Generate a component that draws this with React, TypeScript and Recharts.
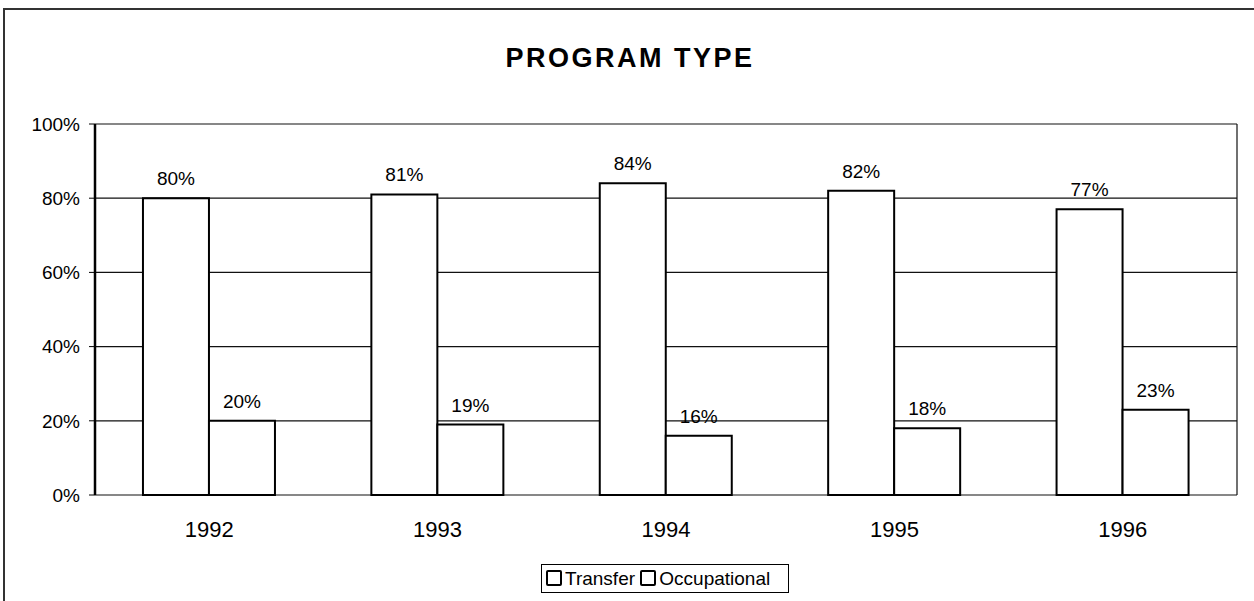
import { BarChart, Bar, XAxis, YAxis, CartesianGrid, LabelList } from "recharts";

const years = ["1992", "1993", "1994", "1995", "1996"];
const transfer = [80, 81, 84, 82, 77];
const occupational = [20, 19, 16, 18, 23];
const yTicks = [0, 20, 40, 60, 80, 100];
const boundaryTicks = [0, 1, 2, 3, 4, 5];

const data = years.map((year, i) => ({ year, transfer: transfer[i], occupational: occupational[i] }));

const FONT = "Arial, 'Liberation Sans', sans-serif";
const pct = (v: number) => `${v}%`;

function LegendSwatch() {
  return (
    <span
      style={{
        display: "inline-block",
        width: 12,
        height: 12,
        border: "2px solid #000",
        borderRadius: 2,
        marginRight: 3,
        verticalAlign: "-1px",
      }}
    />
  );
}

export default function App() {
  return (
    <div style={{ position: "absolute", left: 0, top: 0, width: 1254, height: 601, background: "#fff", fontFamily: FONT }}>
      {/* outer chart frame */}
      <div style={{ position: "absolute", left: 3, top: 8, right: 0, bottom: 0, borderLeft: "2px solid #333", borderTop: "2px solid #333" }} />
      <div
        style={{
          position: "absolute",
          left: 0,
          width: 1260,
          top: 45,
          textAlign: "center",
          fontSize: 27,
          lineHeight: "27px",
          fontWeight: "bold",
          letterSpacing: 2.5,
        }}
      >
        PROGRAM TYPE
      </div>
      <BarChart
        width={1254}
        height={601}
        data={data}
        margin={{ top: 124, right: 17, left: 0, bottom: 66 }}
        barCategoryGap="21%"
        barGap={0}
        style={{ position: "absolute", left: 0, top: 0 }}
      >
        <CartesianGrid
          stroke="#111"
          strokeWidth={1.2}
          verticalCoordinatesGenerator={({ offset }: any) => [offset.left + offset.width]}
        />
        <XAxis
          xAxisId="b"
          type="number"
          domain={[0, 5]}
          ticks={boundaryTicks}
          tickFormatter={() => ""}
          height={0}
          tickSize={7}
          axisLine={{ stroke: "#000", strokeWidth: 2.5 }}
          tickLine={{ stroke: "#000" }}
        />
        <XAxis
          xAxisId="cat"
          dataKey="year"
          height={40}
          axisLine={false}
          tickLine={false}
          tickSize={0}
          tickMargin={26}
          tick={{ fill: "#000", fontSize: 22, fontFamily: FONT }}
        />
        <YAxis
          width={95}
          domain={[0, 100]}
          ticks={yTicks}
          tickFormatter={pct}
          axisLine={{ stroke: "#000", strokeWidth: 2.5 }}
          tickLine={{ stroke: "#000" }}
          tickSize={6}
          tickMargin={9}
          tick={{ fill: "#000", fontSize: 19, fontFamily: FONT }}
        />
        <Bar xAxisId="cat" dataKey="transfer" fill="#fff" stroke="#000" strokeWidth={2} isAnimationActive={false}>
          <LabelList dataKey="transfer" position="top" offset={13} formatter={pct} fill="#000" fontSize={19} fontFamily={FONT} />
        </Bar>
        <Bar xAxisId="cat" dataKey="occupational" fill="#fff" stroke="#000" strokeWidth={2} isAnimationActive={false}>
          <LabelList dataKey="occupational" position="top" offset={13} formatter={pct} fill="#000" fontSize={19} fontFamily={FONT} />
        </Bar>
      </BarChart>
      <div
        style={{
          position: "absolute",
          left: 541,
          top: 564,
          width: 242,
          height: 27,
          border: "1.5px solid #000",
          fontSize: 19,
          lineHeight: "27px",
          paddingLeft: 4,
          boxSizing: "content-box",
          whiteSpace: "nowrap",
        }}
      >
        <LegendSwatch />Transfer <LegendSwatch />Occupational
      </div>
    </div>
  );
}
